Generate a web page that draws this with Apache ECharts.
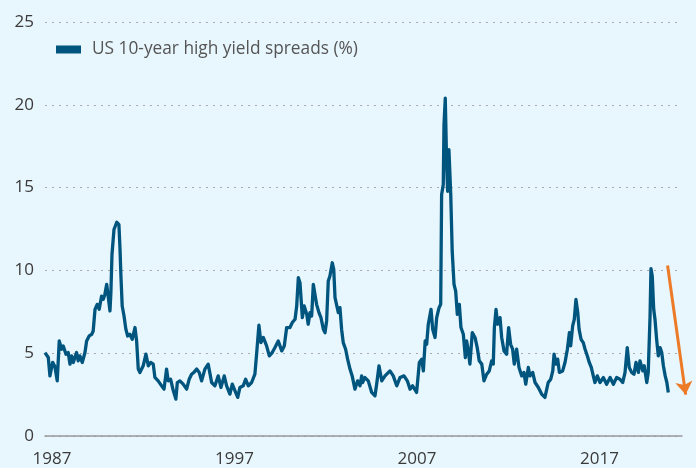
<!DOCTYPE html>
<html>
<head>
<meta charset="utf-8">
<script src="https://cdn.jsdelivr.net/npm/echarts@6/dist/echarts.min.js"></script>
<style>
  html, body { margin: 0; padding: 0; background: #e8f6fd; }
  #chart { width: 696px; height: 468px; }
</style>
</head>
<body>
<div id="chart"></div>
<script>
// dates as fractional years, spreads in %
const dates = [
  1986.62, 1986.80, 1986.89, 1987.04, 1987.16, 1987.29, 1987.40, 1987.53, 1987.62, 1987.77,
  1987.89, 1987.99, 1988.08, 1988.17, 1988.35, 1988.44, 1988.53, 1988.66, 1988.81, 1988.90,
  1989.04, 1989.18, 1989.26, 1989.36, 1989.48, 1989.59, 1989.72, 1989.81, 1989.90, 1990.00,
  1990.08, 1990.18, 1990.23, 1990.29, 1990.40, 1990.55, 1990.67, 1990.73, 1990.78, 1990.85,
  1990.95, 1991.05, 1991.15, 1991.27, 1991.40, 1991.55, 1991.64, 1991.73, 1991.82, 1992.00,
  1992.15, 1992.28, 1992.41, 1992.55, 1992.64, 1992.82, 1993.01, 1993.14, 1993.28, 1993.37,
  1993.50, 1993.65, 1993.79, 1993.87, 1994.01, 1994.19, 1994.38, 1994.52, 1994.65, 1994.78,
  1994.93, 1995.07, 1995.20, 1995.38, 1995.56, 1995.75, 1995.93, 1996.11, 1996.26, 1996.44,
  1996.57, 1996.75, 1996.88, 1997.03, 1997.18, 1997.30, 1997.48, 1997.61, 1997.76, 1997.94,
  1998.12, 1998.22, 1998.34, 1998.45, 1998.58, 1998.76, 1998.91, 1999.07, 1999.22, 1999.40,
  1999.59, 1999.73, 1999.86, 2000.04, 2000.17, 2000.32, 2000.41, 2000.50, 2000.59, 2000.72,
  2000.82, 2000.96, 2001.04, 2001.14, 2001.23, 2001.32, 2001.41, 2001.50, 2001.63, 2001.74,
  2001.87, 2001.96, 2002.05, 2002.14, 2002.23, 2002.36, 2002.44, 2002.51, 2002.60, 2002.69,
  2002.78, 2002.87, 2002.96, 2003.09, 2003.20, 2003.33, 2003.45, 2003.60, 2003.75, 2003.88,
  2003.97, 2004.02, 2004.15, 2004.33, 2004.52, 2004.70, 2004.79, 2004.92, 2005.07, 2005.25,
  2005.52, 2005.70, 2005.89, 2006.07, 2006.29, 2006.47, 2006.62, 2006.76, 2006.98, 2007.13,
  2007.26, 2007.35, 2007.45, 2007.53, 2007.62, 2007.77, 2007.86, 2007.99, 2008.08, 2008.21,
  2008.30, 2008.35, 2008.44, 2008.48, 2008.55, 2008.63, 2008.68, 2008.75, 2008.85, 2008.93,
  2009.03, 2009.12, 2009.21, 2009.32, 2009.41, 2009.54, 2009.65, 2009.72, 2009.81, 2009.90,
  2010.03, 2010.18, 2010.30, 2010.41, 2010.55, 2010.67, 2010.82, 2010.96, 2011.09, 2011.18,
  2011.24, 2011.33, 2011.42, 2011.55, 2011.64, 2011.77, 2011.91, 2012.02, 2012.13, 2012.24,
  2012.33, 2012.46, 2012.59, 2012.74, 2012.86, 2012.96, 2013.10, 2013.19, 2013.34, 2013.47,
  2013.65, 2013.83, 2014.01, 2014.11, 2014.19, 2014.33, 2014.44, 2014.51, 2014.62, 2014.71,
  2014.80, 2014.98, 2015.11, 2015.24, 2015.35, 2015.42, 2015.53, 2015.62, 2015.71, 2015.81,
  2015.88, 2015.99, 2016.11, 2016.21, 2016.33, 2016.44, 2016.55, 2016.66, 2016.75, 2016.88,
  2017.03, 2017.21, 2017.39, 2017.58, 2017.76, 2017.94, 2018.12, 2018.27, 2018.40, 2018.52,
  2018.63, 2018.76, 2018.89, 2019.00, 2019.13, 2019.22, 2019.37, 2019.45, 2019.59, 2019.67,
  2019.77, 2019.82, 2019.89, 2019.97, 2020.04, 2020.13, 2020.22, 2020.32, 2020.41, 2020.50,
  2020.60, 2020.69, 2020.77
]
const spreads = [
  5.04, 4.74, 3.63, 4.45, 4.20, 3.33, 5.74, 5.24, 5.44, 4.94,
  5.04, 4.34, 4.84, 4.44, 5.04, 4.54, 4.84, 4.44, 5.04, 5.74,
  6.04, 6.14, 6.34, 7.65, 7.95, 7.65, 8.45, 8.25, 8.55, 9.16,
  8.45, 7.55, 8.66, 10.96, 12.47, 12.91, 12.77, 11.27, 9.66, 7.85,
  7.25, 6.45, 6.04, 6.14, 5.84, 6.55, 5.74, 4.04, 3.84, 4.24,
  4.94, 4.24, 4.44, 4.34, 3.54, 3.33, 3.03, 2.83, 4.04, 3.33,
  3.43, 2.73, 2.23, 3.23, 3.33, 3.13, 2.83, 3.43, 3.73, 3.84,
  4.04, 3.84, 3.33, 4.04, 4.34, 3.23, 3.03, 3.63, 2.93, 3.63,
  3.03, 2.53, 3.13, 2.73, 2.33, 2.93, 3.03, 3.43, 3.03, 3.23,
  3.73, 5.04, 6.69, 5.64, 5.95, 5.44, 4.84, 5.04, 5.34, 5.74,
  5.14, 5.44, 6.55, 6.55, 6.85, 7.05, 7.85, 9.56, 9.26, 7.15,
  7.85, 7.35, 6.75, 7.45, 7.25, 9.16, 9.06, 7.95, 7.45, 7.15,
  6.45, 6.24, 6.95, 9.36, 9.66, 10.46, 10.06, 8.36, 8.25, 7.45,
  7.75, 6.45, 5.64, 5.24, 4.64, 4.04, 3.63, 2.83, 3.33, 3.03,
  3.63, 3.23, 3.53, 3.33, 2.63, 2.43, 3.13, 4.24, 3.33, 3.63,
  3.93, 3.63, 3.03, 3.53, 3.63, 3.33, 2.83, 3.03, 2.63, 4.44,
  4.64, 3.93, 5.74, 5.54, 6.75, 7.65, 6.45, 5.95, 7.15, 7.75,
  7.95, 14.58, 15.18, 18.80, 20.40, 16.19, 14.78, 17.29, 14.58, 11.16,
  9.16, 8.75, 7.35, 7.95, 6.55, 6.14, 4.74, 5.74, 5.14, 4.34,
  6.24, 5.95, 5.34, 4.54, 4.34, 3.33, 3.73, 3.93, 4.54, 4.34,
  6.55, 7.65, 6.75, 7.15, 5.95, 5.14, 4.94, 6.55, 5.54, 5.24,
  4.34, 5.24, 4.14, 3.63, 3.84, 3.13, 4.14, 3.63, 3.84, 3.23,
  2.93, 2.53, 2.33, 2.23, 3.23, 3.43, 3.93, 4.94, 4.34, 4.64,
  3.84, 3.93, 4.44, 5.24, 6.24, 5.44, 6.65, 7.05, 8.25, 7.45,
  6.45, 5.84, 5.64, 5.24, 4.84, 4.44, 4.14, 3.63, 3.23, 3.63,
  3.23, 3.53, 3.13, 3.53, 3.13, 3.53, 3.43, 3.23, 3.84, 5.34,
  4.14, 3.84, 3.73, 4.44, 3.84, 4.54, 3.93, 4.24, 3.23, 3.84,
  7.25, 10.10, 9.66, 7.65, 7.05, 5.84, 4.84, 5.34, 5.04, 4.24,
  3.63, 3.23, 2.63
]
const yearLabels = [1987, 1997, 2007, 2017]
const seriesName = 'US 10-year high yield spreads (%)'
// orange "falling" arrow: [year, value] of tail and head
const arrowStart = [2020.73, 10.3]
const arrowEnd = [2021.72, 2.5]

const chart = echarts.init(document.getElementById('chart'))
const font = '"Open Sans", "Noto Sans", sans-serif'

chart.setOption({
  backgroundColor: '#e8f6fd',
  animation: false,
  textStyle: { fontFamily: font },
  grid: { left: 45, right: 14, top: 22, bottom: 31 },
  legend: {
    data: [seriesName],
    left: 51,
    top: 36,
    icon: 'rect',
    itemWidth: 25,
    itemHeight: 8,
    textStyle: { fontSize: 17.3, color: '#555', fontFamily: font, padding: [0, 0, 0, 6] }
  },
  xAxis: {
    type: 'value',
    min: 1986.62,
    max: 2021.52,
    axisLine: { lineStyle: { color: '#999', width: 1.5 } },
    axisTick: { show: false },
    splitLine: { show: false },
    axisLabel: {
      customValues: yearLabels,
      fontSize: 17,
      color: '#3a3a3a',
      margin: 15,
      formatter: v => String(v)
    }
  },
  yAxis: {
    type: 'value',
    min: 0,
    max: 25,
    interval: 5,
    axisLine: { show: false },
    axisTick: { show: false },
    axisLabel: { fontSize: 17, color: '#3a3a3a', margin: 11 },
    splitLine: { lineStyle: { color: '#aaa', type: [2, 5], width: 1.2 } }
  },
  series: [
    {
      name: seriesName,
      type: 'line',
      data: dates.map((d, i) => [d, spreads[i]]),
      showSymbol: false,
      color: '#00557f',
      lineStyle: { width: 3.3, color: '#00557f', join: 'round' }
    },
    {
      type: 'lines',
      coordinateSystem: 'cartesian2d',
      silent: true,
      clip: false,
      symbol: ['none', 'arrow'],
      symbolSize: 13,
      lineStyle: { color: '#ec7a27', width: 3, opacity: 1 },
      data: [{ coords: [arrowStart, arrowEnd] }]
    }
  ]
})
</script>
</body>
</html>
